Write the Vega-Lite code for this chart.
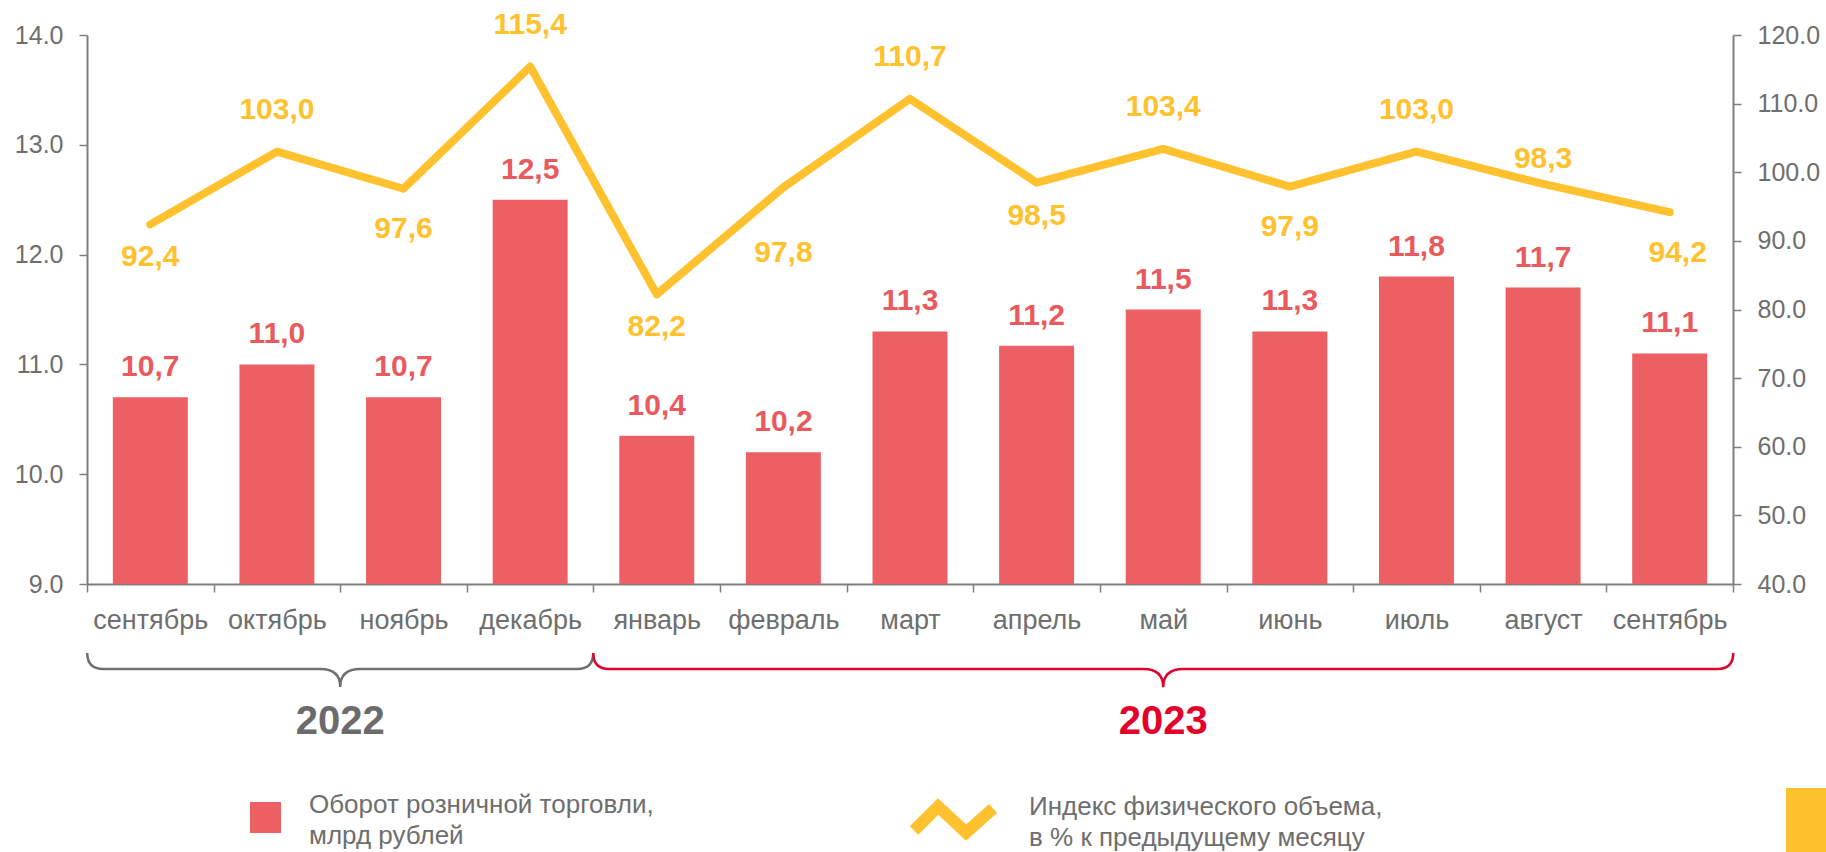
{
  "$schema": "https://vega.github.io/schema/vega-lite/v6.json",
  "width": 1646,
  "height": 549,
  "autosize": {"type": "none"},
  "padding": {"left": 87, "top": 35, "right": 93, "bottom": 268},
  "background": "white",
  "config": {
    "font": "Liberation Sans",
    "view": {"stroke": null},
    "style": {"guide-label": {"lineHeight": 31}}
  },
  "data": {
    "values": [
      {"period": "сентябрь 2022", "year": "2022", "turnover": 10.7, "turnover_label": "10,7", "index": 92.4, "index_label": "92,4"},
      {"period": "октябрь 2022", "year": "2022", "turnover": 11.0, "turnover_label": "11,0", "index": 103.0, "index_label": "103,0"},
      {"period": "ноябрь 2022", "year": "2022", "turnover": 10.7, "turnover_label": "10,7", "index": 97.6, "index_label": "97,6"},
      {"period": "декабрь 2022", "year": "2022", "turnover": 12.5, "turnover_label": "12,5", "index": 115.4, "index_label": "115,4"},
      {"period": "январь 2023", "year": "2023", "turnover": 10.35, "turnover_label": "10,4", "index": 82.2, "index_label": "82,2"},
      {"period": "февраль 2023", "year": "2023", "turnover": 10.2, "turnover_label": "10,2", "index": 97.8, "index_label": "97,8"},
      {"period": "март 2023", "year": "2023", "turnover": 11.3, "turnover_label": "11,3", "index": 110.7, "index_label": "110,7"},
      {"period": "апрель 2023", "year": "2023", "turnover": 11.17, "turnover_label": "11,2", "index": 98.5, "index_label": "98,5"},
      {"period": "май 2023", "year": "2023", "turnover": 11.5, "turnover_label": "11,5", "index": 103.4, "index_label": "103,4"},
      {"period": "июнь 2023", "year": "2023", "turnover": 11.3, "turnover_label": "11,3", "index": 97.9, "index_label": "97,9"},
      {"period": "июль 2023", "year": "2023", "turnover": 11.8, "turnover_label": "11,8", "index": 103.0, "index_label": "103,0"},
      {"period": "август 2023", "year": "2023", "turnover": 11.7, "turnover_label": "11,7", "index": 98.3, "index_label": "98,3"},
      {"period": "сентябрь 2023", "year": "2023", "turnover": 11.1, "turnover_label": "11,1", "index": 94.2, "index_label": "94,2"}
    ]
  },
  "layer": [
    {
      "layer": [
        {
          "mark": {"type": "bar", "width": {"band": 0.592}},
          "encoding": {
            "x": {
              "field": "period", "type": "nominal", "sort": null,
              "scale": {"paddingInner": 0, "paddingOuter": 0},
              "axis": {
                "title": null, "labelExpr": "split(datum.label, ' ')[0]", "labelAngle": 0,
                "labelFontSize": 27, "labelColor": "#6E6E6E", "labelPadding": 15,
                "tickBand": "extent", "tickSize": 8, "tickColor": "#7F7F7F", "tickWidth": 1.5,
                "domainColor": "#7F7F7F", "domainWidth": 2, "labelFont": "Liberation Sans"
              }
            },
            "y": {
              "field": "turnover", "type": "quantitative",
              "scale": {"domain": [9, 14], "zero": false, "nice": false},
              "axis": {
                "title": null, "values": [9, 10, 11, 12, 13, 14], "format": ".1f", "grid": false,
                "labelFontSize": 25, "labelColor": "#6E6E6E", "labelPadding": 16,
                "tickSize": 8, "tickColor": "#7F7F7F", "tickWidth": 1.5,
                "domainColor": "#7F7F7F", "domainWidth": 2, "labelFont": "Liberation Sans"
              }
            },
            "y2": {"datum": 9},
            "color": {
              "datum": "Оборот розничной торговли,|млрд рублей",
              "scale": {"range": ["#EC5F62"]},
              "legend": {
                "title": null, "orient": "none", "legendX": 163, "legendY": 767, "padding": 0,
                "symbolType": "square", "symbolSize": 961, "symbolStrokeWidth": 0,
                "labelFontSize": 26, "labelColor": "#6E6E6E", "labelOffset": 28, "labelLimit": 800,
                "labelBaseline": "bottom",
                "labelFont": "Liberation Sans", "labelExpr": "split(datum.label, '|')"
              }
            }
          }
        },
        {
          "mark": {"type": "text", "fontWeight": "bold", "fontSize": 30, "color": "#E95A5E", "baseline": "middle", "dy": -30},
          "encoding": {
            "x": {"field": "period", "type": "nominal", "sort": null},
            "y": {"field": "turnover", "type": "quantitative", "title": null},
            "text": {"field": "turnover_label"}
          }
        },
        {
          "transform": [{"filter": "datum.period == 'ноябрь 2022'"}],
          "mark": {"type": "point", "shape": "M -1 -0.063 Q -1 0 -0.937 0 L -0.079 0 Q 0 0 0 0.071 Q 0 0 0.079 0 L 0.937 0 Q 1 0 1 -0.063", "size": 256036, "filled": false, "fill": "transparent", "stroke": "#6F6F6F", "strokeWidth": 2.5, "opacity": 1},
          "encoding": {
            "x": {"field": "period", "type": "nominal", "sort": null, "bandPosition": 0},
            "y": {"datum": 8.226, "type": "quantitative", "title": null}
          }
        },
        {
          "transform": [{"filter": "datum.period == 'май 2023'"}],
          "mark": {"type": "point", "shape": "M -1 -0.028 Q -1 0 -0.972 0 L -0.035 0 Q 0 0 0 0.032 Q 0 0 0.035 0 L 0.972 0 Q 1 0 1 -0.028", "size": 1299600, "filled": false, "fill": "transparent", "stroke": "#E4002B", "strokeWidth": 2.5, "opacity": 1},
          "encoding": {
            "x": {"field": "period", "type": "nominal", "sort": null, "bandPosition": 0.5},
            "y": {"datum": 8.226, "type": "quantitative", "title": null}
          }
        },
        {
          "transform": [{"filter": "datum.period == 'ноябрь 2022'"}],
          "mark": {"type": "text", "fontWeight": "bold", "fontSize": 40, "color": "#6B6B6B", "baseline": "middle"},
          "encoding": {
            "x": {"field": "period", "type": "nominal", "sort": null, "bandPosition": 0},
            "y": {"datum": 7.743, "type": "quantitative", "title": null},
            "text": {"field": "year"}
          }
        },
        {
          "transform": [{"filter": "datum.period == 'май 2023'"}],
          "mark": {"type": "text", "fontWeight": "bold", "fontSize": 40, "color": "#E4002B", "baseline": "middle"},
          "encoding": {
            "x": {"field": "period", "type": "nominal", "sort": null, "bandPosition": 0.5},
            "y": {"datum": 7.743, "type": "quantitative", "title": null},
            "text": {"field": "year"}
          }
        }
      ]
    },
    {
      "layer": [
        {
          "mark": {"type": "line", "strokeWidth": 8, "strokeCap": "round", "strokeJoin": "round"},
          "encoding": {
            "x": {"field": "period", "type": "nominal", "sort": null},
            "y": {
              "field": "index", "type": "quantitative",
              "scale": {"domain": [40, 120], "zero": false, "nice": false},
              "axis": {
                "title": null, "orient": "right", "values": [40, 50, 60, 70, 80, 90, 100, 110, 120], "format": ".1f", "grid": false,
                "labelFontSize": 25, "labelColor": "#6E6E6E", "labelPadding": 16,
                "tickSize": 8, "tickColor": "#7F7F7F", "tickWidth": 1.5,
                "domainColor": "#7F7F7F", "domainWidth": 2, "labelFont": "Liberation Sans"
              }
            },
            "stroke": {
              "datum": "Индекс физического объема,|в % к предыдущему месяцу",
              "scale": {"range": ["#FFC12E"]},
              "legend": {
                "title": null, "orient": "none", "legendX": 821, "legendY": 739, "padding": 0,
                "symbolType": "M -1 0.28 L -0.39 -0.33 L 0.32 0.33 L 1 -0.28", "symbolSize": 6241,
                "symbolStrokeWidth": 12, "symbolFillColor": "transparent",
                "labelFontSize": 26, "labelColor": "#6E6E6E", "labelOffset": 30, "labelLimit": 800,
                "labelBaseline": "bottom",
                "labelFont": "Liberation Sans", "labelExpr": "split(datum.label, '|')"
              }
            }
          }
        },
        {
          "transform": [{"filter": "datum.period == 'сентябрь 2023'"}],
          "mark": {"type": "point", "opacity": 0, "size": 1, "filled": true},
          "encoding": {
            "x": {"field": "period", "type": "nominal", "sort": null},
            "y": {"field": "index", "type": "quantitative", "title": null},
            "fill": {
              "datum": "logo",
              "scale": {"range": ["#FFC12E"]},
              "legend": {
                "title": null, "orient": "none", "legendX": 1699, "legendY": 753, "padding": 0,
                "symbolType": "square", "symbolSize": 4096, "symbolStrokeWidth": 0, "symbolOpacity": 1,
                "labelExpr": "''", "labelFontSize": 1
              }
            }
          }
        },
        {
          "transform": [{"filter": {"field": "period", "oneOf": ["октябрь 2022", "декабрь 2022", "март 2023", "май 2023", "июль 2023"]}}],
          "mark": {"type": "text", "fontWeight": "bold", "fontSize": 30, "color": "#FFC12E", "baseline": "middle", "dy": -42},
          "encoding": {
            "x": {"field": "period", "type": "nominal", "sort": null},
            "y": {"field": "index", "type": "quantitative", "title": null},
            "text": {"field": "index_label"}
          }
        },
        {
          "transform": [{"filter": {"field": "period", "oneOf": ["август 2023"]}}],
          "mark": {"type": "text", "fontWeight": "bold", "fontSize": 30, "color": "#FFC12E", "baseline": "middle", "dy": -25},
          "encoding": {
            "x": {"field": "period", "type": "nominal", "sort": null},
            "y": {"field": "index", "type": "quantitative", "title": null},
            "text": {"field": "index_label"}
          }
        },
        {
          "transform": [{"filter": {"field": "period", "oneOf": ["ноябрь 2022", "июнь 2023"]}}],
          "mark": {"type": "text", "fontWeight": "bold", "fontSize": 30, "color": "#FFC12E", "baseline": "middle", "dy": 40},
          "encoding": {
            "x": {"field": "period", "type": "nominal", "sort": null},
            "y": {"field": "index", "type": "quantitative", "title": null},
            "text": {"field": "index_label"}
          }
        },
        {
          "transform": [{"filter": {"field": "period", "oneOf": ["сентябрь 2023"]}}],
          "mark": {"type": "text", "fontWeight": "bold", "fontSize": 30, "color": "#FFC12E", "baseline": "middle", "dy": 41, "dx": 8},
          "encoding": {
            "x": {"field": "period", "type": "nominal", "sort": null},
            "y": {"field": "index", "type": "quantitative", "title": null},
            "text": {"field": "index_label"}
          }
        },
        {
          "transform": [{"filter": {"field": "period", "oneOf": ["сентябрь 2022", "январь 2023", "апрель 2023"]}}],
          "mark": {"type": "text", "fontWeight": "bold", "fontSize": 30, "color": "#FFC12E", "baseline": "middle", "dy": 33},
          "encoding": {
            "x": {"field": "period", "type": "nominal", "sort": null},
            "y": {"field": "index", "type": "quantitative", "title": null},
            "text": {"field": "index_label"}
          }
        },
        {
          "transform": [{"filter": {"field": "period", "oneOf": ["февраль 2023"]}}],
          "mark": {"type": "text", "fontWeight": "bold", "fontSize": 30, "color": "#FFC12E", "baseline": "middle", "dy": 66},
          "encoding": {
            "x": {"field": "period", "type": "nominal", "sort": null},
            "y": {"field": "index", "type": "quantitative", "title": null},
            "text": {"field": "index_label"}
          }
        }
      ]
    }
  ],
  "resolve": {"scale": {"y": "independent"}}
}
